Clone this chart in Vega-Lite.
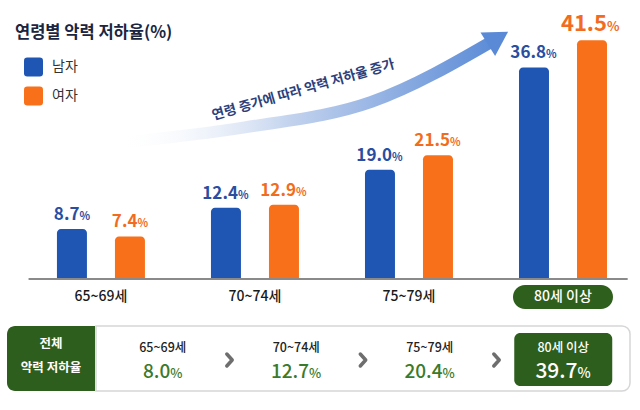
{
  "$schema": "https://vega.github.io/schema/vega-lite/v6.json",
  "background": "white",
  "padding": {"left": 7, "top": 5, "right": 0, "bottom": 0},
  "config": {"view": {"stroke": null}, "font": "Noto Sans CJK KR"},
  "datasets": {
    "rates": [
      {"group": "65~69세", "sex": "남자", "value": 8.7},
      {"group": "65~69세", "sex": "여자", "value": 7.4},
      {"group": "70~74세", "sex": "남자", "value": 12.4},
      {"group": "70~74세", "sex": "여자", "value": 12.9},
      {"group": "75~79세", "sex": "남자", "value": 19.0},
      {"group": "75~79세", "sex": "여자", "value": 21.5},
      {"group": "80세 이상", "sex": "남자", "value": 36.8},
      {"group": "80세 이상", "sex": "여자", "value": 41.5}
    ],
    "totals": [
      {"group": "65~69세", "total": 8.0},
      {"group": "70~74세", "total": 12.7},
      {"group": "75~79세", "total": 20.4},
      {"group": "80세 이상", "total": 39.7}
    ]
  },
  "spacing": 13,
  "vconcat": [
    {
      "width": 633,
      "height": 307,
      "resolve": {"scale": {"x": "independent", "y": "independent"}},
      "layer": [
        {
          "layer": [
            {
              "data": {"name": "rates"},
              "mark": {"type": "bar", "cornerRadiusTopLeft": 4, "cornerRadiusTopRight": 4},
              "encoding": {
                "x": {"field": "group", "type": "nominal", "sort": null, "axis": null,
                      "scale": {"domain": ["65~69세", "70~74세", "75~79세", "80세 이상"], "paddingInner": 0, "paddingOuter": 0.055, "align": 1}},
                "xOffset": {"field": "sex", "type": "nominal", "sort": null,
                            "scale": {"domain": ["남자", "여자"], "paddingInner": 0.483, "paddingOuter": 0.569}},
                "y": {"field": "value", "type": "quantitative", "axis": null,
                      "scale": {"domain": [-5.74, 47.65], "nice": false, "zero": false}},
                "y2": {"datum": 0},
                "color": {"field": "sex", "type": "nominal",
                          "scale": {"domain": ["남자", "여자"], "range": ["#1f56b4", "#f8711a"]},
                          "legend": {
                            "title": "연령별 악력 저하율(%)",
                            "orient": "none", "legendX": 8, "legendY": 20, "direction": "vertical",
                            "titleFontSize": 16.5, "titleFontWeight": "bold", "titleColor": "#1b2540", "titlePadding": 16,
                            "symbolType": "M-0.65,-1L0.65,-1Q1,-1 1,-0.65L1,0.65Q1,1 0.65,1L-0.65,1Q-1,1 -1,0.65L-1,-0.65Q-1,-1 -0.65,-1Z",
                            "symbolSize": 361, "symbolStrokeWidth": 0, "symbolOpacity": 1,
                            "labelFontSize": 14, "labelColor": "#333333", "labelOffset": 9, "rowPadding": 10, "symbolOffset": 9
                          }}
              }
            },
            {
              "data": {"values": [{}]},
              "mark": {"type": "rule", "color": "#8a8a8a", "strokeWidth": 2},
              "encoding": {
                "x": {"datum": "65~69세", "bandPosition": 0.03},
                "x2": {"datum": "80세 이상", "bandPosition": 0.92},
                "y": {"datum": 0}
              }
            },
            {
              "data": {"values": [{"group": "80세 이상"}]},
              "mark": {"type": "bar", "color": "#2f5f1c", "cornerRadius": 12, "width": 100},
              "encoding": {
                "x": {"field": "group", "type": "nominal", "sort": null},
                "y": {"datum": -1.04},
                "y2": {"datum": -5.22}
              }
            },
            {
              "data": {"name": "totals"},
              "mark": {"type": "text", "fontSize": 14, "fontWeight": 500, "baseline": "middle"},
              "encoding": {
                "x": {"field": "group", "type": "nominal", "sort": null},
                "y": {"datum": -3.13},
                "text": {"field": "group"},
                "color": {"condition": {"test": "datum.group === '80세 이상'", "value": "white"}, "value": "#1a1a1a"}
              }
            },
            {
              "data": {"name": "rates"},
              "transform": [{"filter": "datum.value < 10"}],
              "layer": [
                {"mark": {"type": "text", "align": "right", "baseline": "alphabetic", "dx": 7.5, "dy": -9, "fontSize": 17, "fontWeight": "bold"},
                 "encoding": {"text": {"field": "value", "type": "quantitative", "format": ".1f"}}},
                {"mark": {"type": "text", "align": "left", "baseline": "alphabetic", "dx": 7.5, "dy": -9, "fontSize": 11, "fontWeight": "bold", "text": "%"}}
              ],
              "encoding": {
                "x": {"field": "group", "type": "nominal", "sort": null},
                "xOffset": {"field": "sex", "type": "nominal", "sort": null},
                "y": {"field": "value", "type": "quantitative"},
                "color": {"condition": {"test": "datum.sex === '남자'", "value": "#2b4d9f"}, "value": "#f26c1f"}
              }
            },
            {
              "data": {"name": "rates"},
              "transform": [{"filter": "datum.value >= 10 && datum.value < 40"}],
              "layer": [
                {"mark": {"type": "text", "align": "right", "baseline": "alphabetic", "dx": 12, "dy": -9, "fontSize": 17, "fontWeight": "bold"},
                 "encoding": {"text": {"field": "value", "type": "quantitative", "format": ".1f"}}},
                {"mark": {"type": "text", "align": "left", "baseline": "alphabetic", "dx": 12, "dy": -9, "fontSize": 11, "fontWeight": "bold", "text": "%"}}
              ],
              "encoding": {
                "x": {"field": "group", "type": "nominal", "sort": null},
                "xOffset": {"field": "sex", "type": "nominal", "sort": null},
                "y": {"field": "value", "type": "quantitative"},
                "color": {"condition": {"test": "datum.sex === '남자'", "value": "#2b4d9f"}, "value": "#f26c1f"}
              }
            },
            {
              "data": {"name": "rates"},
              "transform": [{"filter": "datum.value >= 40"}],
              "layer": [
                {"mark": {"type": "text", "align": "right", "baseline": "alphabetic", "dx": 15, "dy": -9, "fontSize": 22, "fontWeight": "bold"},
                 "encoding": {"text": {"field": "value", "type": "quantitative", "format": ".1f"}}},
                {"mark": {"type": "text", "align": "left", "baseline": "alphabetic", "dx": 15, "dy": -9, "fontSize": 13, "fontWeight": "bold", "text": "%"}}
              ],
              "encoding": {
                "x": {"field": "group", "type": "nominal", "sort": null},
                "xOffset": {"field": "sex", "type": "nominal", "sort": null},
                "y": {"field": "value", "type": "quantitative"},
                "color": {"condition": {"test": "datum.sex === '남자'", "value": "#2b4d9f"}, "value": "#f26c1f"}
              }
            }
          ]
        },
        {
          "layer": [
            {
              "data": {"name": "totals"},
              "mark": {"type": "line", "interpolate": "monotone", "strokeWidth": 12, "strokeCap": "butt",
                       "color": {"gradient": "linear", "x1": 0, "y1": 0, "x2": 1, "y2": 0,
                                 "stops": [{"offset": 0, "color": "rgba(255,255,255,0)"}, {"offset": 0.45, "color": "#c3d3ee"}, {"offset": 1, "color": "#5a8ad6"}]}},
              "encoding": {
                "x": {"field": "group", "type": "nominal", "sort": null, "axis": null,
                      "scale": {"type": "point", "domain": ["65~69세", "70~74세", "75~79세", "80세 이상"], "padding": 1.377, "align": 0.439}},
                "y": {"field": "total", "type": "quantitative", "axis": null,
                      "scale": {"domain": [-43.03, 49.66], "nice": false, "zero": false}}
              }
            },
            {
              "data": {"name": "totals"},
              "transform": [{"filter": "datum.group === '80세 이상'"}],
              "mark": {"type": "point", "shape": "triangle-right", "filled": true, "size": 760, "angle": 328, "color": "#5a8ad6", "opacity": 1},
              "encoding": {
                "x": {"field": "group", "type": "nominal", "sort": null},
                "y": {"field": "total", "type": "quantitative"}
              }
            },
            {
              "data": {"values": [{}]},
              "mark": {"type": "text", "text": "연령 증가에 따라 악력 저하율 증가", "angle": 344, "fontSize": 13.5, "fontWeight": "bold", "color": "#2d3f7c", "dx": 61, "baseline": "middle"},
              "encoding": {
                "x": {"datum": "70~74세"},
                "y": {"datum": 18.9}
              }
            }
          ]
        }
      ]
    },
    {
      "spacing": 0,
      "hconcat": [
        {
          "width": 88,
          "height": 65,
          "layer": [
            {
              "data": {"values": [{}]},
              "mark": {"type": "rect", "color": "#2e5e1d", "cornerRadiusTopLeft": 8, "cornerRadiusBottomLeft": 8},
              "encoding": {"x": {"value": 0}, "x2": {"value": "width"}, "y": {"value": 0}, "y2": {"value": "height"}}
            },
            {
              "data": {"values": [{}]},
              "mark": {"type": "text", "text": ["전체", "악력 저하율"], "color": "white", "fontSize": 12.5, "fontWeight": "bold", "lineHeight": 24, "baseline": "middle", "dy": -14.5}
            }
          ]
        },
        {
          "width": 534,
          "height": 65,
          "layer": [
            {
              "data": {"values": [{}]},
              "mark": {"type": "rect", "fill": "white", "stroke": "#d6d6d6", "strokeWidth": 1.5, "cornerRadiusTopRight": 8, "cornerRadiusBottomRight": 8},
              "encoding": {"x": {"value": 0}, "x2": {"value": "width"}, "y": {"value": 0}, "y2": {"value": "height"}}
            },
            {
              "data": {"name": "totals"},
              "transform": [{"filter": "datum.group === '80세 이상'"}],
              "mark": {"type": "bar", "color": "#2e5e1d", "cornerRadius": 6, "width": 98},
              "encoding": {
                "x": {"field": "group", "type": "nominal", "sort": null, "axis": null,
                      "scale": {"domain": ["65~69세", "70~74세", "75~79세", "80세 이상"], "paddingInner": 0, "paddingOuter": 0}},
                "y": {"datum": 8.92, "type": "quantitative", "axis": null, "scale": {"domain": [0, 10], "nice": false}},
                "y2": {"datum": 0.77}
              }
            },
            {
              "data": {"name": "totals"},
              "mark": {"type": "text", "fontSize": 12.5, "fontWeight": 500, "baseline": "middle"},
              "encoding": {
                "x": {"field": "group", "type": "nominal", "sort": null},
                "y": {"datum": 6.6},
                "text": {"field": "group"},
                "color": {"condition": {"test": "datum.group === '80세 이상'", "value": "white"}, "value": "#222222"}
              }
            },
            {
              "data": {"name": "totals"},
              "transform": [{"filter": "datum.total < 10"}],
              "layer": [
                {"mark": {"type": "text", "align": "right", "baseline": "middle", "dx": 7.6, "fontSize": 19, "fontWeight": 500},
                 "encoding": {"text": {"field": "total", "type": "quantitative", "format": ".1f"}}},
                {"mark": {"type": "text", "align": "left", "baseline": "middle", "dx": 7.6, "dy": 1.5, "fontSize": 13, "fontWeight": 500, "text": "%"}}
              ],
              "encoding": {
                "x": {"field": "group", "type": "nominal", "sort": null},
                "y": {"datum": 2.9},
                "color": {"value": "#3c7a2b"}
              }
            },
            {
              "data": {"name": "totals"},
              "transform": [{"filter": "datum.total >= 10 && datum.total < 30"}],
              "layer": [
                {"mark": {"type": "text", "align": "right", "baseline": "middle", "dx": 12.8, "fontSize": 19, "fontWeight": 500},
                 "encoding": {"text": {"field": "total", "type": "quantitative", "format": ".1f"}}},
                {"mark": {"type": "text", "align": "left", "baseline": "middle", "dx": 12.8, "dy": 1.5, "fontSize": 13, "fontWeight": 500, "text": "%"}}
              ],
              "encoding": {
                "x": {"field": "group", "type": "nominal", "sort": null},
                "y": {"datum": 2.9},
                "color": {"value": "#3c7a2b"}
              }
            },
            {
              "data": {"name": "totals"},
              "transform": [{"filter": "datum.total >= 30"}],
              "layer": [
                {"mark": {"type": "text", "align": "right", "baseline": "middle", "dx": 14.3, "fontSize": 21, "fontWeight": 500},
                 "encoding": {"text": {"field": "total", "type": "quantitative", "format": ".1f"}}},
                {"mark": {"type": "text", "align": "left", "baseline": "middle", "dx": 14.3, "dy": 1.5, "fontSize": 14, "fontWeight": 500, "text": "%"}}
              ],
              "encoding": {
                "x": {"field": "group", "type": "nominal", "sort": null},
                "y": {"datum": 2.9},
                "color": {"value": "white"}
              }
            },
            {
              "data": {"name": "totals"},
              "transform": [{"filter": "datum.group !== '80세 이상'"}],
              "mark": {"type": "point", "shape": "M-0.45,-1L0.45,0L-0.45,1", "filled": false, "size": 144, "strokeWidth": 3.5, "color": "#6e6e6e", "opacity": 1, "strokeCap": "round", "strokeJoin": "round"},
              "encoding": {
                "x": {"field": "group", "type": "nominal", "sort": null, "bandPosition": 1},
                "y": {"datum": 4.77}
              }
            }
          ]
        }
      ]
    }
  ]
}
